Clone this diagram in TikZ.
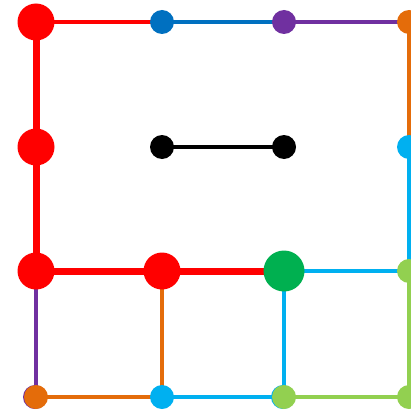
\documentclass[tikz,border=0pt]{standalone}
\definecolor{cred}{HTML}{FF0000}
\definecolor{cblue}{HTML}{0070C0}
\definecolor{cpurple}{HTML}{7030A0}
\definecolor{corange}{HTML}{E46C0A}
\definecolor{clblue}{HTML}{00B0F0}
\definecolor{cgreen}{HTML}{00B050}
\definecolor{clgreen}{HTML}{92D050}
\tikzset{
  dot/.style={circle,inner sep=0pt,minimum size=24pt,fill=#1},
  bigdot/.style={circle,inner sep=0pt,minimum size=37pt,fill=#1},
  thinline/.style={line width=4.3pt,draw=#1},
  thickline/.style={line width=7pt,draw=#1},
}
\begin{document}
\begin{tikzpicture}[x=1pt,y=-1pt]
\useasboundingbox (0,0) rectangle (411,409);
\begin{scope}
\clip (0,0) rectangle (411,409);
% coordinates
\coordinate (p00) at (36,22);   \coordinate (p10) at (162,22);  \coordinate (p20) at (284,22);  \coordinate (p30) at (409,22);
\coordinate (p01) at (36,147);  \coordinate (p11) at (162,147); \coordinate (p21) at (284,147); \coordinate (p31) at (409,147);
\coordinate (p02) at (36,271);  \coordinate (p12) at (162,271); \coordinate (p22) at (284,271); \coordinate (p32) at (409,271);
\coordinate (p03) at (36,397);  \coordinate (p13) at (162,397); \coordinate (p23) at (284,397); \coordinate (p33) at (409,397);
% edges
\draw[thinline=cred] (p00) -- (p10);
\draw[thinline=cblue] (p10) -- (p20);
\draw[thinline=cpurple] (p20) -- (p30);
\draw[thinline=corange] (p30) -- (p31);
\draw[thinline=clblue] (p31) -- (p32);
\draw[thickline=cred] (p00) -- (p01);
\draw[thickline=cred] (p01) -- (p02);
\draw[thinline=black] (p11) -- (p21);
\draw[thickline=cred] (p02) -- (p12);
\draw[thickline=cred] (p12) -- (p22);
\draw[thinline=clblue] (p22) -- (p32);
\draw[thinline=cpurple] (p02) -- (p03);
\draw[thinline=corange] (p12) -- (p13);
\draw[thinline=clblue] (p22) -- (p23);
\draw[thinline=clgreen] (p32) -- (p33);
\draw[thinline=corange] (p03) -- (p13);
\draw[thinline=clblue] (p13) -- (p23);
\draw[thinline=clgreen] (p23) -- (p33);
% nodes
\node[bigdot=cred] (n00) at (p00) {};
\node[dot=cblue] (n10) at (p10) {};
\node[dot=cpurple] (n20) at (p20) {};
\node[dot=corange] (n30) at (p30) {};
\node[bigdot=cred] (n01) at (p01) {};
\node[dot=black] (n11) at (p11) {};
\node[dot=black] (n21) at (p21) {};
\node[dot=clblue] (n31) at (p31) {};
\node[bigdot=cred] (n02) at (p02) {};
\node[bigdot=cred] (n12) at (p12) {};
\node[circle,inner sep=0pt,minimum size=41pt,fill=cgreen] (n22) at (p22) {};
\node[dot=clgreen] (n32) at (p32) {};
\node[dot=cpurple] (n03b) at ([xshift=-1pt]p03) {};
\node[dot=corange] (n03) at (p03) {};
\node[dot=clblue] (n13) at (p13) {};
\node[dot=clblue] (n23b) at ([xshift=-1pt]p23) {};
\node[dot=clgreen] (n23) at (p23) {};
\node[dot=clgreen] (n33) at (p33) {};
\end{scope}
\end{tikzpicture}
\end{document}
